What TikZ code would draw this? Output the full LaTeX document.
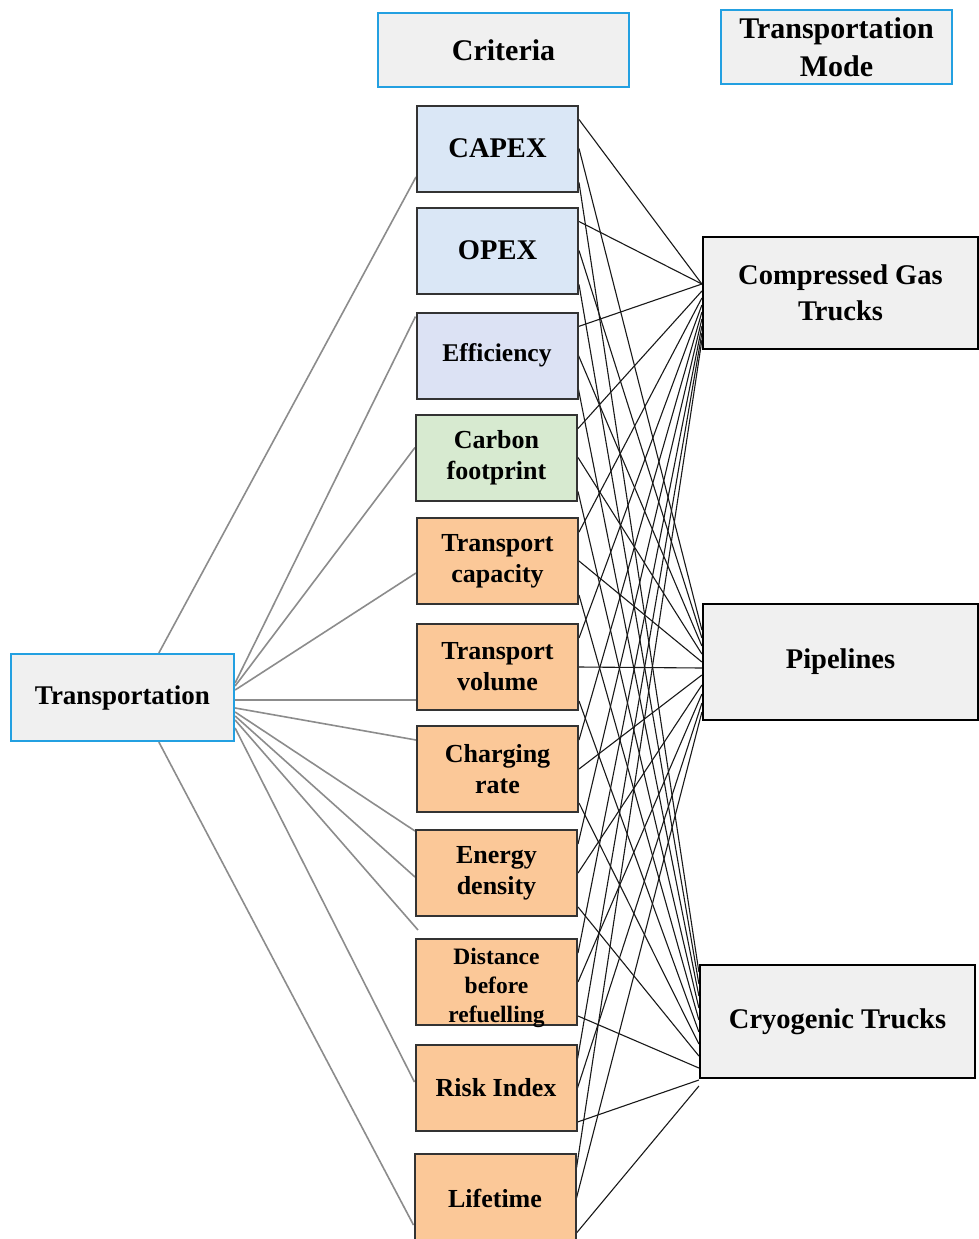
\documentclass[tikz,border=0pt]{standalone}
\usepackage{fontspec}
\setmainfont{Liberation Serif}
\usetikzlibrary{backgrounds}
\definecolor{hdrblue}{RGB}{35,160,225}
\definecolor{hdrfill}{RGB}{240,240,240}
\definecolor{cblue}{RGB}{218,231,246}
\definecolor{clav}{RGB}{220,226,244}
\definecolor{cgreen}{RGB}{215,234,208}
\definecolor{corange}{RGB}{251,200,152}
\begin{document}
\begin{tikzpicture}[x=1pt,y=-1pt,
  hdr/.style={draw=hdrblue, line width=2.2pt, fill=hdrfill, align=center, inner sep=0pt, font=\bfseries\fontsize{30}{38}\selectfont},
  crit/.style={draw=black!80, line width=2pt, minimum width=161pt, minimum height=86pt, align=center, inner sep=0pt, font=\bfseries\fontsize{26}{31}\selectfont},
  mode/.style={draw=black, line width=2.2pt, fill=hdrfill, minimum width=275pt, align=center, inner sep=0pt, font=\bfseries\fontsize{28.5}{36}\selectfont},
  tline/.style={draw=black!45, line width=1.6pt},
  mline/.style={draw=black!90, line width=1.1pt}]
\useasboundingbox (0,0) rectangle (979,1239);

% headers
\node[hdr, minimum width=251pt, minimum height=74pt] (hcrit) at (503.5,50) {Criteria};
\node[hdr, minimum width=231pt, minimum height=74pt] (hmode) at (836.5,47) {Transportation\\Mode};
\node[hdr, minimum width=223pt, minimum height=87pt, font=\bfseries\fontsize{27}{32}\selectfont] (trans) at (122.5,697.5) {Transportation};

% criteria
\node[crit, fill=cblue, font=\bfseries\fontsize{28.5}{31}\selectfont] (capex) at (497.5,148.5) {CAPEX};
\node[crit, fill=cblue, font=\bfseries\fontsize{28.5}{31}\selectfont] (opex) at (497.5,250.5) {OPEX};
\node[crit, fill=clav, font=\bfseries\fontsize{25.5}{31}\selectfont] (eff) at (497,355.5) {Efficiency};
\node[crit, fill=cgreen] (carb) at (496.5,457.5) {Carbon\\footprint};
\node[crit, fill=corange] (tcap) at (497.5,561) {Transport\\capacity};
\node[crit, fill=corange] (tvol) at (497.5,667) {Transport\\volume};
\node[crit, fill=corange] (chg) at (497.5,769) {Charging\\rate};
\node[crit, fill=corange] (ener) at (496.5,873) {Energy\\density};
\node[crit, fill=corange] (dist) at (496.5,982) {};
\node[font=\bfseries\fontsize{23.5}{29}\selectfont, align=center, inner sep=0pt] (distt) at (496.5,988) {Distance\\before\\refuelling};
\node[crit, fill=corange] (risk) at (496,1088) {Risk Index};
\node[crit, fill=corange, minimum height=88pt] (life) at (495,1198) {Lifetime};

% modes
\node[mode, minimum height=112pt] (cg) at (840.5,293) {Compressed Gas\\Trucks};
\node[mode, minimum height=116pt] (pipe) at (840.5,662) {Pipelines};
\node[mode, minimum height=113pt] (cryo) at (837.5,1021.5) {Cryogenic Trucks};

\coordinate (gap) at (418,930);

\begin{pgfonlayer}{background}
\fill[white] (0,0) rectangle (979,1239);
% Transportation to criteria
\draw[tline] ([xshift=149pt]trans.north west) -- ([yshift=-28.5pt]capex.west);
\draw[tline] ([yshift=14.5pt]trans.east) -- ([yshift=-5pt]eff.north west);
\draw[tline] ([yshift=11.5pt]trans.east) -- ([yshift=10pt]carb.west);
\draw[tline] ([yshift=7.5pt]trans.east) -- ([yshift=-12pt]tcap.west);
\draw[tline] ([yshift=-2.5pt]trans.east) -- ([yshift=-33pt]tvol.west);
\draw[tline] ([yshift=-10.5pt]trans.east) -- ([yshift=29pt]chg.west);
\draw[tline] ([yshift=-14.5pt]trans.east) -- ([yshift=-2pt]ener.north west);
\draw[tline] ([yshift=-18.5pt]trans.east) -- ([yshift=-4pt]ener.west);
\draw[tline] ([yshift=-22.5pt]trans.east) -- (gap);
\draw[tline] ([yshift=-30.5pt]trans.east) -- ([yshift=6pt]risk.west);
\draw[tline] ([xshift=149pt]trans.south west) -- ([yshift=-27pt]life.west);

% criteria to modes
\foreach \n/\i in {capex/0,opex/1,eff/2,carb/3,tcap/4,tvol/5,chg/6,ener/7,dist/8,risk/9,life/10} {
  \pgfmathsetmacro\cgs{\i<=2 ? 9 : 9-(\i-2)*7}
  \pgfmathsetmacro\pps{\i<=4 ? 32-8*\i : (\i==5 ? -6 : (\i==6 ? -13 : -23-9*(\i-7)))}
  \pgfmathsetmacro\crs{\i<=8 ? 49.5-12*\i : (\i==9 ? -58.5 : -64.5)}
  \draw[mline] ([yshift=-15pt]\n.north east) -- ([yshift=\cgs pt]cg.west);
  \draw[mline] (\n.east) -- ([yshift=\pps pt]pipe.west);
  \draw[mline] ([yshift=10pt]\n.south east) -- ([yshift=\crs pt]cryo.west);
}
\end{pgfonlayer}
\end{tikzpicture}
\end{document}
